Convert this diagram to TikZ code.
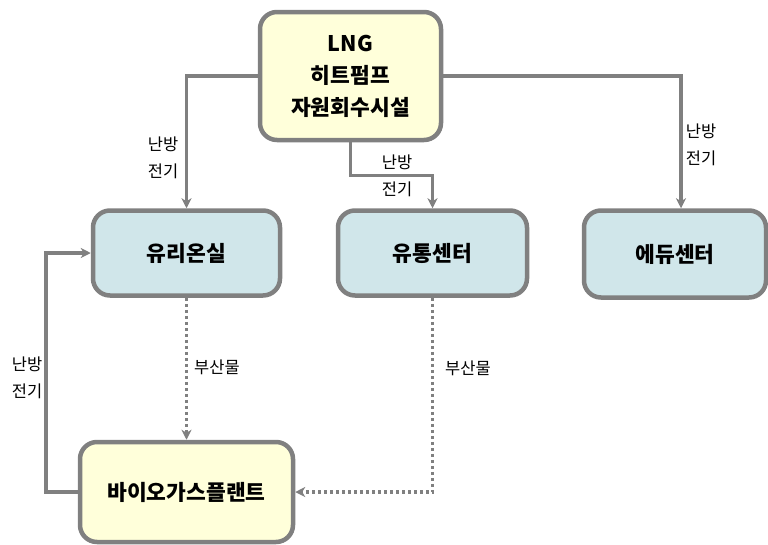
\documentclass[tikz,border=0pt]{standalone}
\usepackage{fontspec}
\setmainfont{Noto Sans CJK KR}
\usetikzlibrary{arrows.meta,calc}
\definecolor{edge}{HTML}{808080}
\definecolor{yelfill}{HTML}{FFFFDA}
\definecolor{bluefill}{HTML}{D0E6EA}
\tikzset{
  box/.style={draw=edge, line width=4.5pt, rounded corners=17pt, align=center,
    font=\fontsize{21.5}{32}\selectfont\bfseries, text=black, inner sep=0pt},
  ybox/.style={box, fill=yelfill},
  bbox/.style={box, fill=bluefill},
  conn/.style={draw=edge, line width=3.5pt,
    -{Stealth[length=10pt,width=10pt,inset=3pt]}},
  dotconn/.style={conn, dash pattern=on 3pt off 3pt},
  lbl/.style={align=left, font=\fontsize{16.5}{27}\selectfont, text=black, inner sep=0pt}
}
\begin{document}
\begin{tikzpicture}[x=1pt,y=-1pt]
\useasboundingbox (0,0) rectangle (768,544);
% facility nodes
\node[ybox, minimum width=181pt, minimum height=128pt] (hp) at (350.5,76) {LNG\\히트펌프\\자원회수시설};
\node[bbox, minimum width=187pt, minimum height=85pt] (gh) at (186.5,253) {유리온실};
\node[bbox, minimum width=189pt, minimum height=85pt] (dc) at (432.5,253) {유통센터};
\node[bbox, minimum width=182pt, minimum height=87pt] (edu) at (675,254) {에듀센터};
\node[ybox, minimum width=213pt, minimum height=100pt] (bg) at (186.5,492) {바이오가스플랜트};
% supply lines
\draw[conn] (hp.west) -| (gh.north);
\draw[conn] (hp.east) -| ([xshift=6pt]edu.north);
\draw[conn] (hp.south) |- ($(hp.south)!0.5!(dc.north)$) -| (dc.north);
\draw[conn] (bg.west) -- ++(-32,0) |- (gh.west);
% by-product lines
\draw[dotconn] (gh.south) -- (bg.north);
\draw[dotconn] (dc.south) |- (bg.east);
% labels
\node[lbl] (l1) at (163,158) {난방\\전기};
\node[lbl] (l2) at (397,176) {난방\\전기};
\node[lbl] (l3) at (701,145) {난방\\전기};
\node[lbl] (l4) at (27,378) {난방\\전기};
\node[lbl] (l5) at (217,367) {부산물};
\node[lbl] (l6) at (468,368) {부산물};
\end{tikzpicture}
\end{document}
